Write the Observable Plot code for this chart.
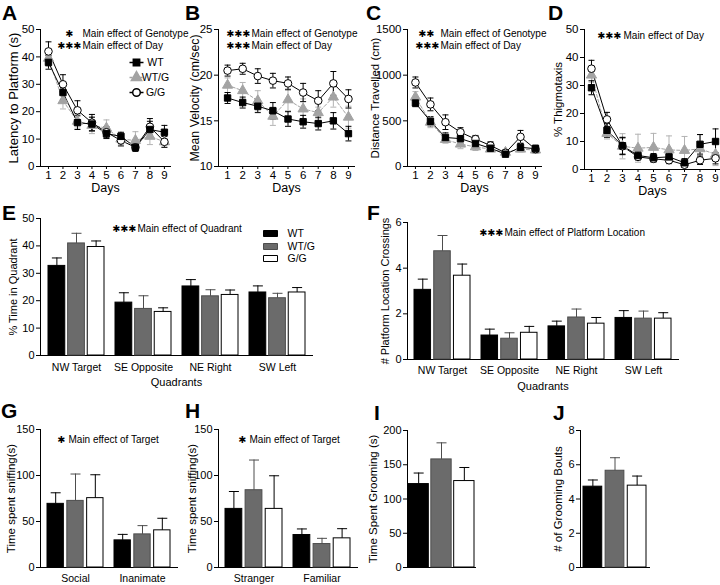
<!DOCTYPE html>
<html><head><meta charset="utf-8">
<script src="https://cdn.jsdelivr.net/npm/d3@7"></script>
<script src="https://cdn.jsdelivr.net/npm/@observablehq/plot@0.6"></script>
<style>
body{margin:0;background:#fff;}
#fig{position:relative;width:720px;height:585px;overflow:hidden;background:#fff;font-family:'Liberation Sans',Arial,sans-serif;}
.letter{position:absolute;font-weight:bold;font-size:21px;line-height:1;color:#000;}
</style></head><body><div id="fig"></div>
<script>
// ---------- data ----------
const days = [1,2,3,4,5,6,7,8,9];
const genotypes = ["WT","WT/G","G/G"];

// A: latency to platform (s)
const latencyWT = [38, 27, 16, 15.5, 12, 11, 7, 13.5, 12.5];
const latencyWTsem = [2.5, 2.5, 2.5, 2.5, 1.8, 1.5, 1, 3, 2.5];
const latencyWTG = [39.5, 24, 16.5, 15, 14, 10, 9.5, 11, 9];
const latencyWTGsem = [3, 3, 2.5, 3, 3, 2, 3.2, 3, 2];
const latencyGG = [42, 30, 20.5, 16, 12.5, 9.5, 7, 14.5, 9];
const latencyGGsem = [3.5, 3.5, 3.5, 3, 2, 2, 1.5, 3, 2];

// B: mean velocity (cm/sec)
const velocityWT = [17.5, 17.0, 16.6, 16.1, 15.2, 14.9, 14.7, 15.0, 13.6];
const velocityWTsem = [0.6, 0.6, 0.7, 0.9, 0.8, 0.7, 0.7, 0.9, 0.8];
const velocityWTG = [18.9, 18.3, 17.2, 15.5, 17.3, 16.3, 15.9, 17.6, 15.4];
const velocityWTGsem = [0.8, 0.9, 1.1, 1.0, 1.2, 1.1, 0.6, 1.1, 1.2];
const velocityGG = [20.5, 20.7, 19.9, 19.4, 19.1, 18.1, 17.2, 19.1, 17.4];
const velocityGGsem = [0.6, 0.6, 0.8, 0.8, 0.7, 1.0, 1.1, 1.3, 1.0];

// C: distance travelled (cm)
const distanceWT = [695, 495, 318, 305, 252, 200, 135, 210, 195];
const distanceWTsem = [40, 50, 50, 50, 40, 30, 20, 40, 40];
const distanceWTG = [760, 485, 295, 245, 215, 190, 155, 190, 180];
const distanceWTGsem = [60, 60, 40, 50, 40, 30, 30, 30, 30];
const distanceGG = [920, 680, 485, 375, 300, 230, 150, 325, 190];
const distanceGGsem = [60, 70, 80, 50, 40, 40, 30, 70, 40];

// D: % thigmotaxis
const thigmoWT = [29.2, 14, 8.5, 5, 4.2, 4.5, 2.4, 9, 10];
const thigmoWTsem = [2.5, 2.5, 3, 1.5, 1.5, 1.5, 1.5, 3.5, 4.5];
const thigmoWTG = [33.7, 12.9, 8.3, 7.6, 7.9, 7, 6.8, 7.4, 5.4];
const thigmoWTGsem = [2.5, 2, 4.5, 5, 5, 5, 5, 5, 4];
const thigmoGG = [36, 17.9, 8.3, 4.5, 3.8, 3.3, 1.7, 3.3, 4];
const thigmoGGsem = [3, 2.5, 3, 1, 1, 1, 1, 1.5, 2];

// E / F: probe trial
const quadrants = ["NW Target","SE Opposite","NE Right","SW Left"];
const timeWT = [32.7, 19.3, 25.2, 23];
const timeWTsem = [2.9, 3.6, 2.5, 2.4];
const timeWTG = [40.9, 17, 21.6, 20.9];
const timeWTGsem = [3.7, 4.8, 2.4, 1.8];
const timeGG = [39.6, 15.9, 22.1, 23];
const timeGGsem = [2.2, 1.5, 1.8, 1.8];

const crossWT = [3.05, 1.05, 1.45, 1.82];
const crossWTsem = [0.47, 0.28, 0.23, 0.32];
const crossWTG = [4.74, 0.91, 1.84, 1.79];
const crossWTGsem = [0.69, 0.26, 0.37, 0.33];
const crossGG = [3.67, 1.17, 1.57, 1.79];
const crossGGsem = [0.51, 0.28, 0.27, 0.26];

// G / H: sniffing
const targetsG = ["Social","Inanimate"];
const sniffGWT = [69.2, 29.5];
const sniffGWTsem = [12, 6.5];
const sniffGWTG = [72.4, 36];
const sniffGWTGsem = [29.2, 9.5];
const sniffGGG = [75.4, 40.4];
const sniffGGGsem = [25.4, 13.1];

const targetsH = ["Stranger","Familiar"];
const sniffHWT = [63.7, 35.3];
const sniffHWTsem = [18.9, 6.6];
const sniffHWTG = [84, 25.5];
const sniffHWTGsem = [32.8, 6.2];
const sniffHGG = [63.7, 31.7];
const sniffHGGsem = [36, 10.5];

// I / J: grooming
const groomCats = ["Grooming"];
const groomTime = [121.8, 157.8, 126.2];   // WT, WT/G, G/G
const groomTimeSem = [16.1, 24.2, 19.8];
const groomBouts = [4.72, 5.65, 4.78];
const groomBoutsSem = [0.39, 0.76, 0.56];

// ---------- styling ----------
const FONT = "'Liberation Sans', Arial, Helvetica, sans-serif";
const NARROW = "'Liberation Sans Narrow', 'Arial Narrow', 'Liberation Sans', Arial, sans-serif";
const STARFONT = "'DejaVu Sans', 'Liberation Sans', sans-serif";
const fig = document.getElementById("fig");

const capSymbol = {draw(ctx, size){ const w = Math.sqrt(size/Math.PI); ctx.moveTo(-w,0); ctx.lineTo(w,0); }};
const swatchSymbol = {draw(ctx){ ctx.rect(-7,-3,14,6); }};

const lineStyle = {
  "WT":   {symbol:"square",   r:3.6, fill:"#000", stroke:"#000", line:"#000", dash:undefined, err:"#000"},
  "WT/G": {symbol:"triangle", r:3.8, fill:"#a3a3a3", stroke:"#a3a3a3", line:"#a3a3a3", dash:"3,2", err:"#b3b3b3"},
  "G/G":  {symbol:"circle",   r:3.8, fill:"#fff", stroke:"#000", line:"#000", dash:undefined, err:"#000"}
};
const drawOrder = ["WT/G","G/G","WT"];
const barStyle = {
  "WT":   {fill:"#000", stroke:"#000", err:"#000"},
  "WT/G": {fill:"#6b6b6b", stroke:"#4d4d4d", err:"#4d4d4d"},
  "G/G":  {fill:"#fff", stroke:"#000", err:"#000"}
};

function place(svg, left, top){
  svg.style.position = "absolute";
  svg.style.left = left + "px";
  svg.style.top = top + "px";
  svg.style.overflow = "visible";
  fig.append(svg);
}
function letter(ch, x, baseline){
  const d = document.createElement("div");
  d.className = "letter";
  d.textContent = ch;
  d.style.left = x + "px";
  d.style.top = (baseline - 17.8) + "px";
  fig.append(d);
}
function annotationMarks(annot, ox, oy){
  const m = [];
  for (const a of annot){
    m.push(Plot.text([a.stars], {text:d=>d, frameAnchor:"top-left", dx:a.starX-ox, dy:a.y-oy, textAnchor:"end", lineAnchor:"middle", fontSize:9.5, fontFamily:STARFONT}));
    m.push(Plot.text([a.text], {text:d=>d, frameAnchor:"top-left", dx:a.x-ox, dy:a.y-oy, textAnchor:"start", lineAnchor:"middle", fontSize:10, fontFamily:FONT}));
  }
  return m;
}
function rowsOf(mean, sem){
  return days.map((d,i)=>({day:d, mean:mean[i], lo:mean[i]-sem[i], hi:mean[i]+sem[i]}));
}

function linePanel(p){
  const ox = p.left + p.mL, oy = p.top + p.mT;
  const marks = [
    Plot.frame({anchor:"left"}),
    Plot.frame({anchor:"bottom"}),
    Plot.axisY({ticks:p.yTicks, tickSize:4, tickPadding:2, tickFormat:d3.format("d"), label:null, fontSize:11.5, fontFamily:NARROW}),
    Plot.axisX({ticks:days, tickSize:3, tickPadding:1, tickFormat:d3.format("d"), label:null, fontSize:11.5, fontFamily:NARROW}),
    Plot.text([p.yLabel], {text:d=>d, frameAnchor:"left", rotate:-90, dx:p.yLabelX-ox, textAnchor:"middle", lineAnchor:"middle", fontSize:p.yLabelSize, fontFamily:FONT}),
    Plot.text(["Days"], {text:d=>d, frameAnchor:"bottom", dy:p.xTitleY-(p.top+p.height-p.mB), lineAnchor:"middle", fontSize:12.5, fontFamily:NARROW}),
    ...annotationMarks(p.annot, ox, oy)
  ];
  for (const g of drawOrder){
    const st = lineStyle[g], rows = p.series[g];
    marks.push(Plot.ruleX(rows, {x:"day", y1:"lo", y2:"hi", stroke:st.err, strokeWidth:1}));
    marks.push(Plot.dot(rows, {x:"day", y:"lo", symbol:capSymbol, r:3, stroke:st.err, fill:"none", strokeWidth:1}));
    marks.push(Plot.dot(rows, {x:"day", y:"hi", symbol:capSymbol, r:3, stroke:st.err, fill:"none", strokeWidth:1}));
    marks.push(Plot.line(rows, {x:"day", y:"mean", stroke:st.line, strokeDasharray:st.dash, strokeWidth:1}));
  }
  for (const g of drawOrder){
    const st = lineStyle[g], rows = p.series[g];
    marks.push(Plot.dot(rows, {x:"day", y:"mean", symbol:st.symbol, r:st.r, fill:st.fill, stroke:st.stroke, strokeWidth:1}));
  }
  if (p.legend){
    genotypes.forEach((g,i)=>{
      const st = lineStyle[g], y = p.legend.ys[i]-oy;
      marks.push(Plot.dot([g], {frameAnchor:"top-left", dx:p.legend.symX-ox, dy:y, symbol:capSymbol, r:7, stroke:st.line, strokeDasharray:st.dash, fill:"none"}));
      marks.push(Plot.dot([g], {frameAnchor:"top-left", dx:p.legend.symX-ox, dy:y, symbol:st.symbol, r:st.r, fill:st.fill, stroke:st.stroke}));
      marks.push(Plot.text([g], {text:d=>d, frameAnchor:"top-left", dx:p.legend.textX-ox, dy:y, textAnchor:"middle", lineAnchor:"middle", fontSize:10.5, fontFamily:NARROW}));
    });
  }
  const svg = Plot.plot({
    width:p.width, height:p.height,
    marginLeft:p.mL, marginRight:p.mR, marginTop:p.mT, marginBottom:p.mB,
    x:{domain:p.xDomain}, y:{domain:p.yDomain},
    style:{fontFamily:FONT, fontSize:"12px", background:"transparent", color:"#000"},
    marks
  });
  place(svg, p.left, p.top);
}

function barPanel(p){
  const ox = p.left + p.mL, oy = p.top + p.mT;
  const plotW = p.width - p.mL - p.mR;
  const n = p.cats.length;
  const step = plotW / Math.max(1, n - p.pi + 2*p.po);
  const B = step*(1 - p.pi);
  const bw = (B - 2*p.gap)/3;
  const marks = [
    Plot.frame({anchor:"left"}),
    Plot.frame({anchor:"bottom"}),
    Plot.axisY({ticks:p.yTicks, tickSize:4, tickPadding:2, tickFormat:d3.format("d"), label:null, fontSize:11, fontFamily:FONT}),
    Plot.text([p.yLabel], {text:d=>d, frameAnchor:"left", rotate:-90, dx:p.yLabelX-ox, textAnchor:"middle", lineAnchor:"middle", fontSize:p.yLabelSize, fontFamily:FONT})
  ];
  if (p.showCats){
    marks.push(Plot.axisX({tickSize:0, tickPadding:p.catPad, label:null, fontSize:10.5, fontFamily:FONT}));
  }
  if (p.xTitle){
    marks.push(Plot.text([p.xTitle], {text:d=>d, frameAnchor:"bottom", dy:p.xTitleY-(p.top+p.height-p.mB), lineAnchor:"middle", fontSize:11, fontFamily:FONT}));
  }
  genotypes.forEach((g,k)=>{
    const st = barStyle[g];
    const rows = p.cats.map((c,i)=>({cat:c, v:p.values[g][i], top:p.values[g][i]+p.sems[g][i]}));
    const il = k*(bw+p.gap), ir = B - il - bw, off = il + bw/2 - B/2;
    marks.push(Plot.barY(rows, {x:"cat", y:"v", fill:st.fill, stroke:st.stroke, strokeWidth:1, insetLeft:il, insetRight:ir}));
    marks.push(Plot.ruleX(rows, {x:"cat", y1:"v", y2:"top", dx:off, stroke:st.err, strokeWidth:1}));
    marks.push(Plot.dot(rows, {x:"cat", y:"top", dx:off, symbol:capSymbol, r:p.capR, stroke:st.err, fill:"none", strokeWidth:1}));
  });
  if (p.annot) marks.push(...annotationMarks(p.annot, ox, oy));
  if (p.legend){
    genotypes.forEach((g,i)=>{
      const st = barStyle[g], y = p.legend.ys[i]-oy;
      marks.push(Plot.dot([g], {frameAnchor:"top-left", dx:p.legend.swX-ox, dy:y, symbol:swatchSymbol, fill:st.fill, stroke:st.stroke, strokeWidth:1}));
      marks.push(Plot.text([g], {text:d=>d, frameAnchor:"top-left", dx:p.legend.textX-ox, dy:y, textAnchor:"start", lineAnchor:"middle", fontSize:10.5, fontFamily:FONT}));
    });
  }
  const svg = Plot.plot({
    width:p.width, height:p.height,
    marginLeft:p.mL, marginRight:p.mR, marginTop:p.mT, marginBottom:p.mB,
    x:{domain:p.cats, paddingInner:p.pi, paddingOuter:p.po, axis:p.showCats ? undefined : null},
    y:{domain:p.yDomain},
    style:{fontFamily:FONT, fontSize:"11px", background:"transparent", color:"#000"},
    marks
  });
  place(svg, p.left, p.top);
}

// ---------- panels ----------
const S1 = "\u2731", S2 = "\u2731\u2731", S3 = "\u2731\u2731\u2731";
linePanel({left:0, top:0, width:180, height:195, mL:40, mR:10, mT:29, mB:29,
  xDomain:[0.45, 9.42], yDomain:[0,50], yTicks:[0,10,20,30,40,50],
  yLabel:"Latency to Platform (s)", yLabelX:13, yLabelSize:13, xTitleY:187.5,
  series:{"WT":rowsOf(latencyWT, latencyWTsem), "WT/G":rowsOf(latencyWTG, latencyWTGsem), "G/G":rowsOf(latencyGG, latencyGGsem)},
  annot:[{stars:S1, text:"Main effect of Genotype", x:82, starX:73, y:33},{stars:S3, text:"Main effect of Day", x:82, starX:81, y:45}],
  legend:{symX:136, textX:155, ys:[62,77,92]}
});
linePanel({left:175, top:0, width:180, height:195, mL:43, mR:1, mT:29, mB:29,
  xDomain:[0.4, 9.4], yDomain:[10,25], yTicks:[10,15,20,25],
  yLabel:"Mean Velocity (cm/sec)", yLabelX:195, yLabelSize:12.3, xTitleY:187.5,
  series:{"WT":rowsOf(velocityWT, velocityWTsem), "WT/G":rowsOf(velocityWTG, velocityWTGsem), "G/G":rowsOf(velocityGG, velocityGGsem)},
  annot:[{stars:S3, text:"Main effect of Genotype", x:251, starX:250, y:33},{stars:S3, text:"Main effect of Day", x:251, starX:250, y:45}]
});
linePanel({left:355, top:0, width:190, height:195, mL:52, mR:4, mT:29, mB:29,
  xDomain:[0.47, 9.4], yDomain:[0,1500], yTicks:[0,500,1000,1500],
  yLabel:"Distance Travelled (cm)", yLabelX:375, yLabelSize:11.5, xTitleY:187.5,
  series:{"WT":rowsOf(distanceWT, distanceWTsem), "WT/G":rowsOf(distanceWTG, distanceWTGsem), "G/G":rowsOf(distanceGG, distanceGGsem)},
  annot:[{stars:S2, text:"Main effect of Genotype", x:440, starX:434, y:33},{stars:S3, text:"Main effect of Day", x:440, starX:439, y:45}]
});
linePanel({left:545, top:0, width:175, height:195, mL:39, mR:0, mT:29, mB:26,
  xDomain:[0.55, 9.32], yDomain:[0,50], yTicks:[0,10,20,30,40,50],
  yLabel:"% Thigmotaxis", yLabelX:558, yLabelSize:11.5, xTitleY:190,
  series:{"WT":rowsOf(thigmoWT, thigmoWTsem), "WT/G":rowsOf(thigmoWTG, thigmoWTGsem), "G/G":rowsOf(thigmoGG, thigmoGGsem)},
  annot:[{stars:S3, text:"Main effect of Day", x:623, starX:621, y:35}]
});

barPanel({left:0, top:195, width:360, height:200, mL:40, mR:48, mT:23, mB:40,
  cats:quadrants, pi:0.17, po:0.088, gap:2.5, capR:5,
  values:{"WT":timeWT, "WT/G":timeWTG, "G/G":timeGG}, sems:{"WT":timeWTsem, "WT/G":timeWTGsem, "G/G":timeGGsem},
  yDomain:[0,50], yTicks:[0,10,20,30,40,50], yLabel:"% Time in Quadrant", yLabelX:13, yLabelSize:11,
  showCats:true, catPad:8, xTitle:"Quadrants", xTitleY:382,
  annot:[{stars:S3, text:"Main effect of Quadrant", x:137, starX:136, y:228}],
  legend:{swX:270, textX:287, ys:[233,246,258]}
});
barPanel({left:360, top:195, width:360, height:200, mL:47, mR:42, mT:27, mB:36,
  cats:quadrants, pi:0.16, po:0.088, gap:2.5, capR:5,
  values:{"WT":crossWT, "WT/G":crossWTG, "G/G":crossGG}, sems:{"WT":crossWTsem, "WT/G":crossWTGsem, "G/G":crossGGsem},
  yDomain:[0,6], yTicks:[0,2,4,6], yLabel:"# Platform Location Crossings", yLabelX:385, yLabelSize:11,
  showCats:true, catPad:7, xTitle:"Quadrants", xTitleY:386,
  annot:[{stars:S3, text:"Main effect of Platform Location", x:504, starX:503, y:232}]
});
barPanel({left:0, top:395, width:180, height:190, mL:40, mR:3, mT:34, mB:18,
  cats:targetsG, pi:0.16, po:0.09, gap:2.5, capR:5,
  values:{"WT":sniffGWT, "WT/G":sniffGWTG, "G/G":sniffGGG}, sems:{"WT":sniffGWTsem, "WT/G":sniffGWTGsem, "G/G":sniffGGGsem},
  yDomain:[0,150], yTicks:[0,50,100,150], yLabel:"Time spent sniffing(s)", yLabelX:11, yLabelSize:11.5,
  showCats:true, catPad:7,
  annot:[{stars:S1, text:"Main effect of Target", x:68, starX:65, y:439}]
});
barPanel({left:180, top:395, width:180, height:190, mL:38, mR:3, mT:34, mB:18,
  cats:targetsH, pi:0.16, po:0.09, gap:2.5, capR:5,
  values:{"WT":sniffHWT, "WT/G":sniffHWTG, "G/G":sniffHGG}, sems:{"WT":sniffHWTsem, "WT/G":sniffHWTGsem, "G/G":sniffHGGsem},
  yDomain:[0,150], yTicks:[0,50,100,150], yLabel:"Time spent sniffing(s)", yLabelX:192, yLabelSize:11.5,
  showCats:true, catPad:7,
  annot:[{stars:S1, text:"Main effect of Target", x:249, starX:246, y:439}]
});
barPanel({left:360, top:395, width:180, height:190, mL:47, mR:65, mT:35, mB:18,
  cats:groomCats, pi:0, po:0.015, gap:2.5, capR:5,
  values:{"WT":[groomTime[0]], "WT/G":[groomTime[1]], "G/G":[groomTime[2]]},
  sems:{"WT":[groomTimeSem[0]], "WT/G":[groomTimeSem[1]], "G/G":[groomTimeSem[2]]},
  yDomain:[0,200], yTicks:[0,50,100,150,200], yLabel:"Time Spent Grooming (s)", yLabelX:373, yLabelSize:11.5,
  showCats:false
});
barPanel({left:540, top:395, width:180, height:190, mL:40, mR:71, mT:35, mB:18,
  cats:groomCats, pi:0, po:0.04, gap:2.5, capR:5,
  values:{"WT":[groomBouts[0]], "WT/G":[groomBouts[1]], "G/G":[groomBouts[2]]},
  sems:{"WT":[groomBoutsSem[0]], "WT/G":[groomBoutsSem[1]], "G/G":[groomBoutsSem[2]]},
  yDomain:[0,8], yTicks:[0,2,4,6,8], yLabel:"# of Grooming Bouts", yLabelX:558, yLabelSize:11.5,
  showCats:false
});

// panel letters
letter("A", 2, 20); letter("B", 185, 20); letter("C", 366, 20); letter("D", 548, 20);
letter("E", 2, 220); letter("F", 367, 220);
letter("G", 1, 418); letter("H", 185, 418); letter("I", 374, 420); letter("J", 553, 420);
</script></body></html>
